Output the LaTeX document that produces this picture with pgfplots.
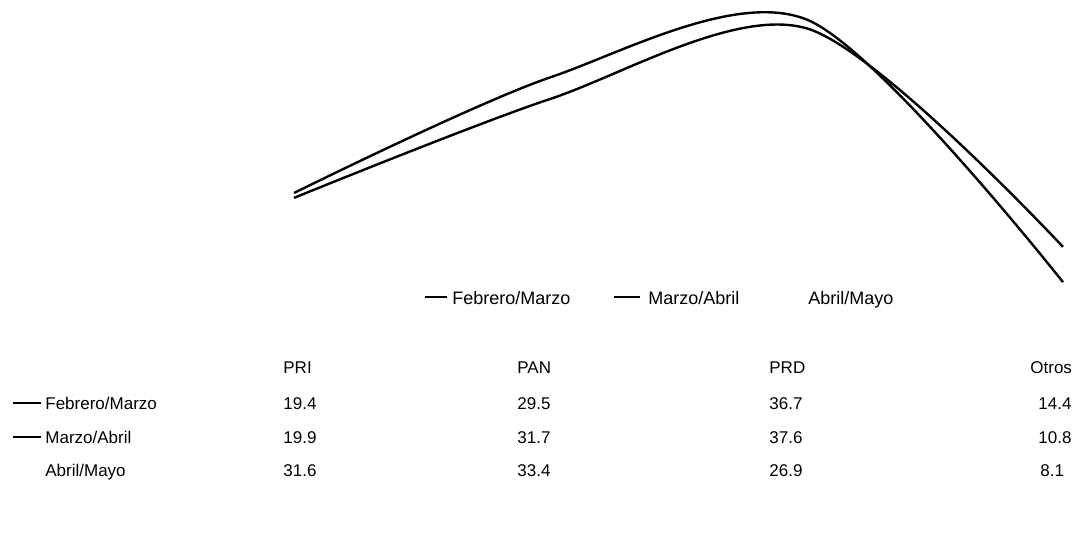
\documentclass[border=0pt]{standalone}
\usepackage{fontspec}
\setmainfont{Liberation Sans}
\usepackage{pgfplots}
\pgfplotsset{compat=1.18}
\begin{document}
\begin{tikzpicture}[x=0.5pt,y=-0.5pt]
\path[use as bounding box] (0,0) rectangle (1092,540);
\begin{axis}[
  at={(147pt,-145pt)}, anchor=south west,
  scale only axis, width=384.5pt, height=147pt,
  xmin=0, xmax=3, ymin=10, ymax=40,
  hide axis, clip=false,
]
\addplot[black, line width=1.2pt, smooth, tension=0.5] coordinates {(0,19.4) (1,29.5) (2,36.7) (3,14.4)};
\addplot[black, line width=1.2pt, smooth, tension=0.5] coordinates {(0,19.9) (1,31.7) (2,37.6) (3,10.8)};
\addplot[draw=none] coordinates {(0,31.6) (1,33.4) (2,26.9) (3,8.1)};
\end{axis}
% legend
\begin{scope}[every node/.style={font=\fontsize{9}{11}\selectfont, inner sep=0pt, anchor=base west}]
\draw[line width=1.2pt] (425,297) -- (447,297);
\node at (452,304) {Febrero/Marzo};
\draw[line width=1.2pt] (614,297) -- (640,297);
\node at (648,304) {Marzo/Abril};
\node at (808,304) {Abril/Mayo};
\end{scope}
% data table
\begin{scope}[every node/.style={font=\fontsize{8.5}{10}\selectfont, inner sep=0pt, anchor=base west}]
\node at (283,373) {PRI};
\node at (517,373) {PAN};
\node at (769,373) {PRD};
\node at (1030,373) {Otros};
\draw[line width=1pt] (13,403) -- (41,403);
\node at (45,409) {Febrero/Marzo};
\node at (283,409) {19.4};
\node at (517,409) {29.5};
\node at (769,409) {36.7};
\node at (1038,409) {14.4};
\draw[line width=1pt] (13,437) -- (41,437);
\node at (45,443) {Marzo/Abril};
\node at (283,443) {19.9};
\node at (517,443) {31.7};
\node at (769,443) {37.6};
\node at (1038,443) {10.8};
\node at (45,476) {Abril/Mayo};
\node at (283,476) {31.6};
\node at (517,476) {33.4};
\node at (769,476) {26.9};
\node at (1040,476) {8.1};
\end{scope}
\end{tikzpicture}
\end{document}
